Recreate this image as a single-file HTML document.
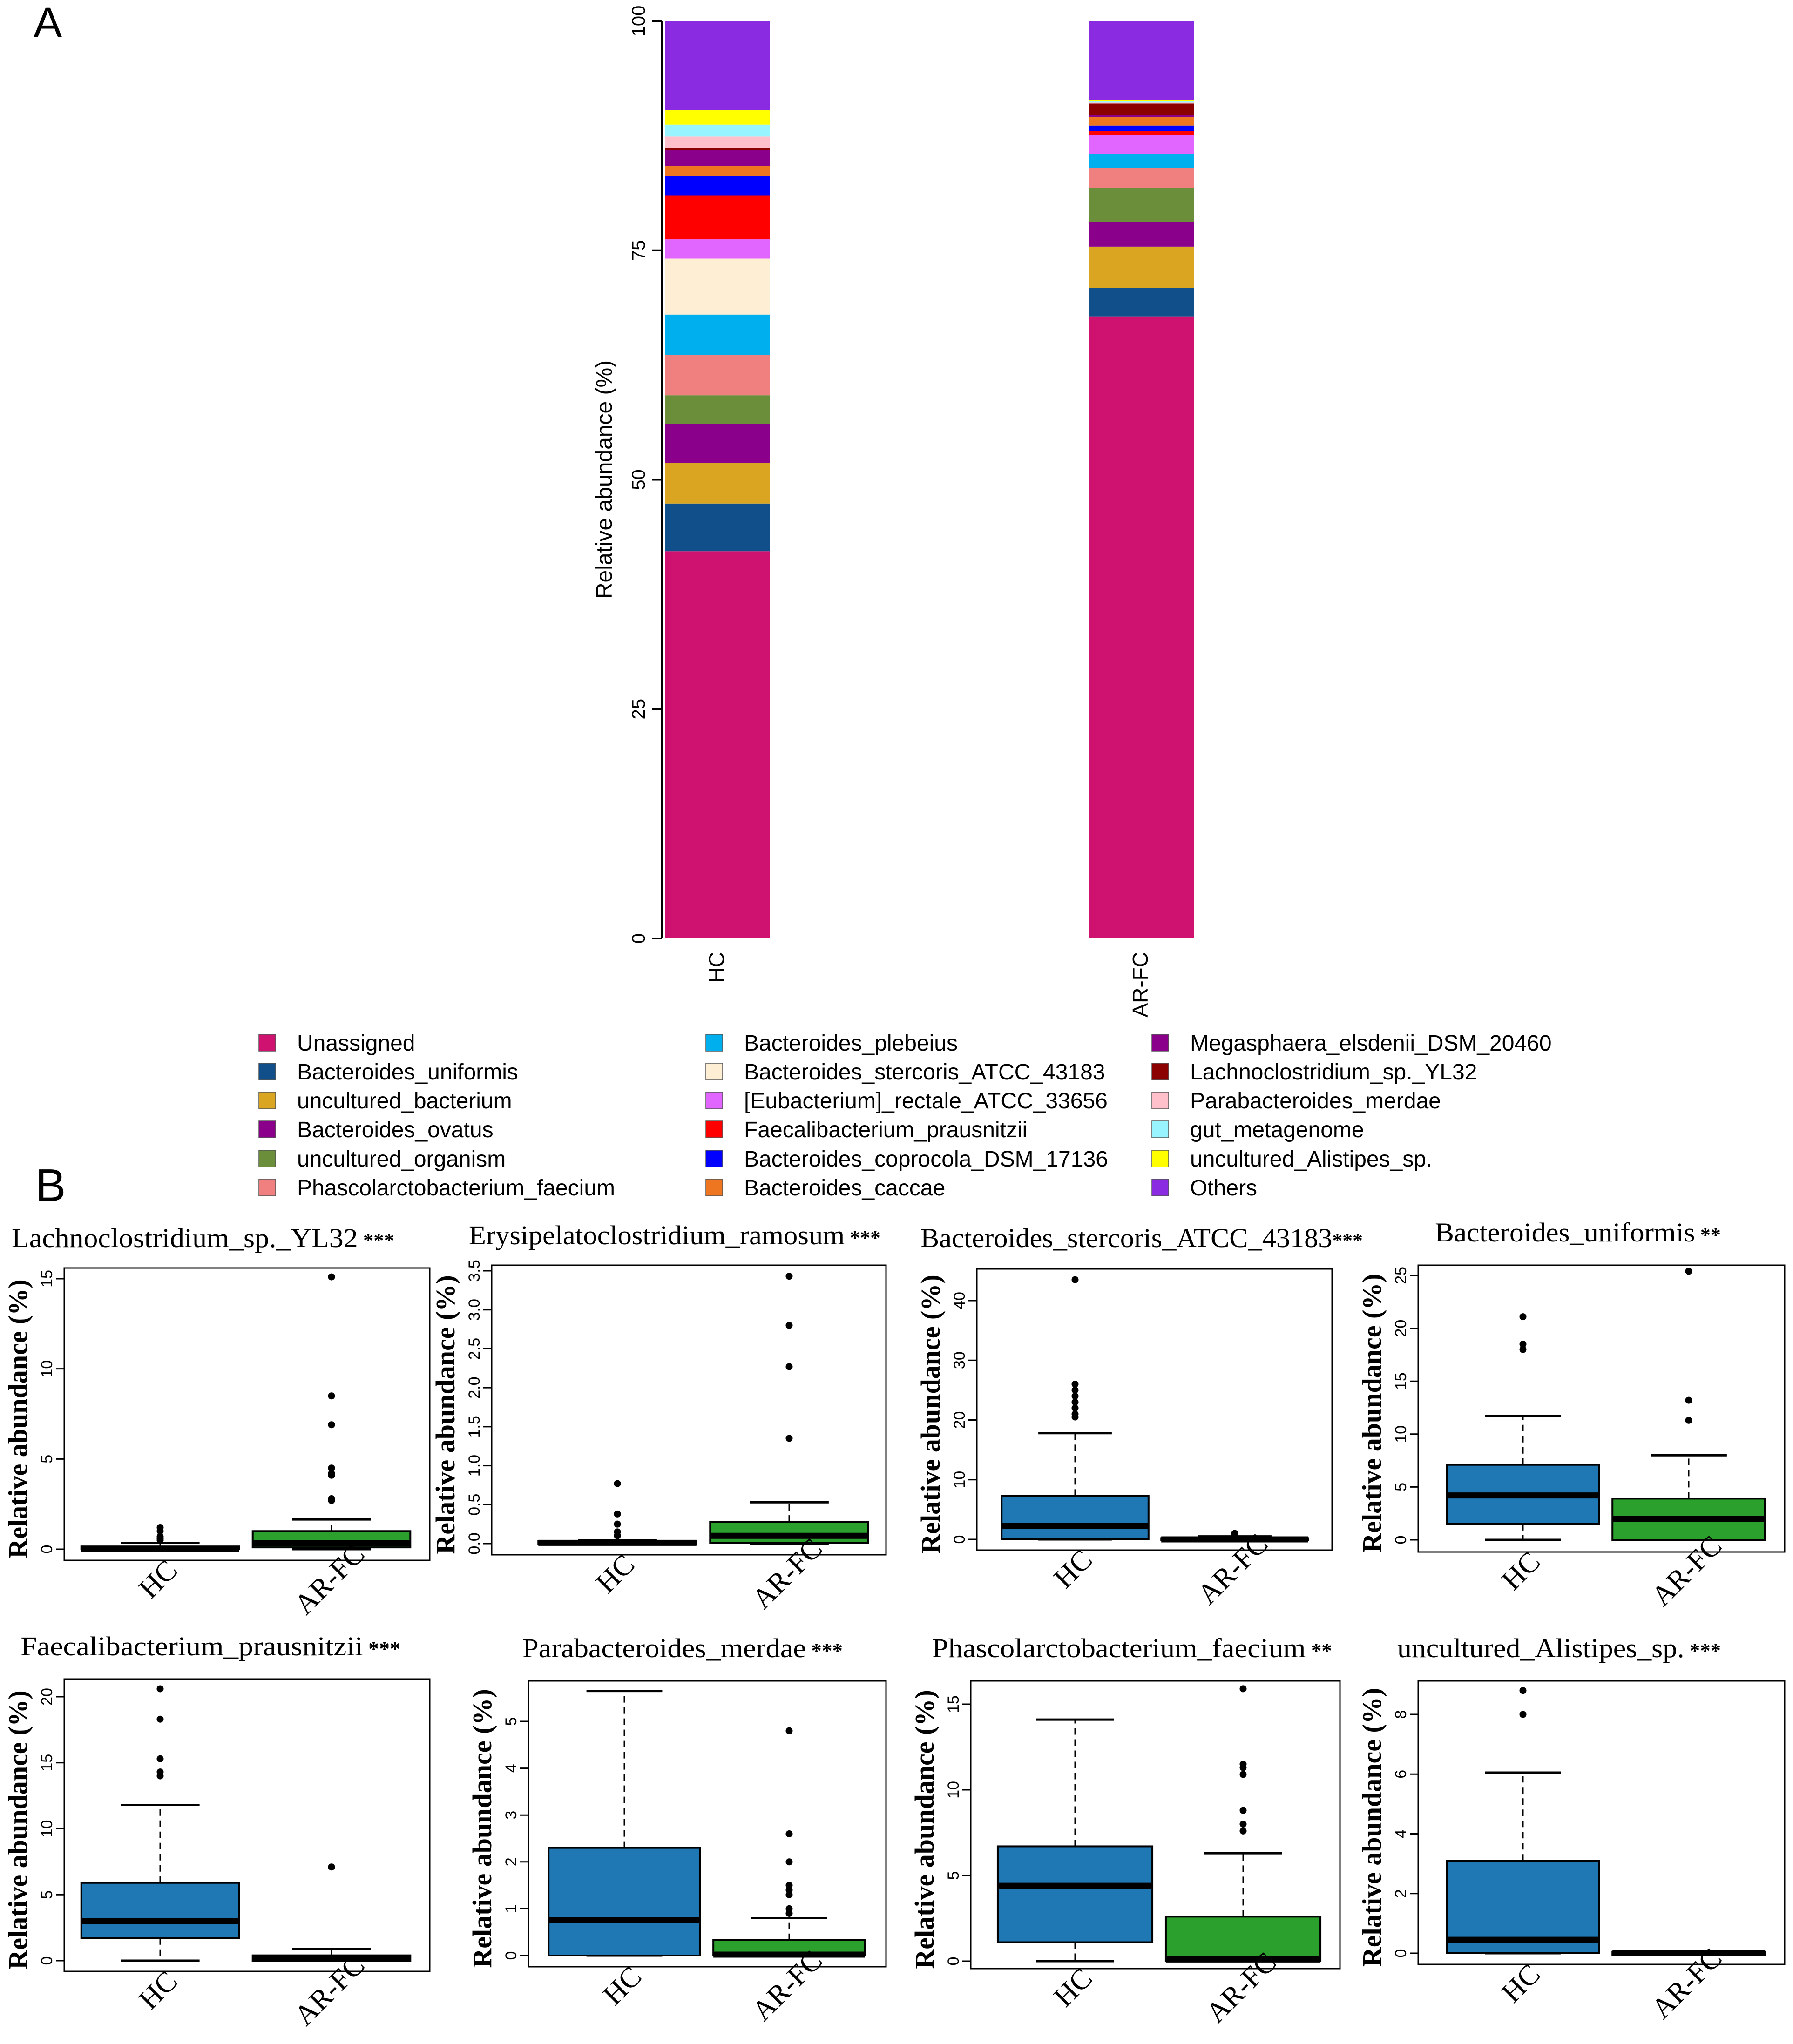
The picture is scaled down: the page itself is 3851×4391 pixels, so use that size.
<!DOCTYPE html>
<html><head><meta charset="utf-8"><style>
html,body{margin:0;padding:0;background:#fff}
svg{display:block}
</style></head><body>
<svg id="fig" xmlns="http://www.w3.org/2000/svg" width="3851" height="4391" viewBox="0 0 3851 4391">
<rect width="3851" height="4391" fill="#fff"/>
<text x="72" y="80" font-family="Liberation Sans, sans-serif" font-size="92">A</text>
<text x="76" y="2580" font-family="Liberation Sans, sans-serif" font-size="98">B</text>
<g id="barchart"></g>
<g id="legend"></g>
<g id="boxes"></g>
</svg>
<script>
const taxa = ["Unassigned","Bacteroides_uniformis","uncultured_bacterium","Bacteroides_ovatus","uncultured_organism","Phascolarctobacterium_faecium","Bacteroides_plebeius","Bacteroides_stercoris_ATCC_43183","[Eubacterium]_rectale_ATCC_33656","Faecalibacterium_prausnitzii","Bacteroides_coprocola_DSM_17136","Bacteroides_caccae","Megasphaera_elsdenii_DSM_20460","Lachnoclostridium_sp._YL32","Parabacteroides_merdae","gut_metagenome","uncultured_Alistipes_sp.","Others"];
const taxaColors = ["#cf1270","#114f8a","#daa520","#8b008b","#6b8e3a","#f08080","#00b0ee","#fdeed4","#e066ff","#ff0000","#0000ff","#ee7621","#8b008b","#8b0000","#ffc0cb","#98f5ff","#ffff00","#8a2be2"];
const groups = ["HC","AR-FC"];
const hcValues = [42.2,5.2,4.4,4.3,3.1,4.4,4.4,6.1,2.1,4.8,2.1,1.1,1.7,0.2,1.3,1.3,1.6,9.7];
const arfcValues = [67.8,3.1,4.5,2.7,3.7,2.2,1.5,0.0,2.1,0.4,0.6,0.9,0.3,1.2,0.1,0.2,0.1,8.6];
const barTicks = [0,25,50,75,100];

const NS="http://www.w3.org/2000/svg";
function mk(tag,attrs,parent,txt){const e=document.createElementNS(NS,tag);for(const k in attrs)e.setAttribute(k,attrs[k]);if(txt!==undefined)e.textContent=txt;parent.appendChild(e);return e;}

// ---- Panel A ----
(function(){
  const g=document.getElementById('barchart');
  const y0=2016,y1=45;
  const ys=v=>y0-(v/100)*(y0-y1);
  const axX=1422;
  const ax=mk('line',{x1:axX,y1:ys(0),x2:axX,y2:ys(100),stroke:'#000','stroke-width':4},g);
  
  
  barTicks.forEach(t=>{
    const tl=mk('line',{x1:axX-22,y1:ys(t),x2:axX,y2:ys(t),stroke:'#000','stroke-width':4},g);
    
    
    const tx=mk('text',{x:1385,y:ys(t),transform:`rotate(-90 1385 ${ys(t)})`,'text-anchor':'middle','font-family':'Liberation Sans, sans-serif','font-size':40},g,String(t));
    
    
  });
  const yt=mk('text',{x:1314,y:1030,transform:'rotate(-90 1314 1030)','text-anchor':'middle','font-family':'Liberation Sans, sans-serif','font-size':48},g,'Relative abundance (%)');
  
  
  const series=[hcValues,arfcValues];
  const bx=[1428,2338], bw=226;
  series.forEach((vals,gi)=>{
    let cum=0;
    vals.forEach((v,i)=>{
      const top=ys(cum+v), bot=ys(cum);
      const r=mk('rect',{x:bx[gi],y:top,width:bw,height:Math.max(0,bot-top),fill:taxaColors[i]},g);
      
      
      cum+=v;
    });
    const cx=bx[gi]+bw/2+14;
    const lb=mk('text',{x:cx,y:2045,transform:`rotate(-90 ${cx} 2045)`,'text-anchor':'end','font-family':'Liberation Sans, sans-serif','font-size':46},g,groups[gi]);
    
    
  });
})();

// ---- Legend ----
(function(){
  const g=document.getElementById('legend');
  const colX=[556,1516,2474], rowY=[2240,2302,2364,2426,2489,2551];
  taxa.forEach((name,i)=>{
    const c=Math.floor(i/6), r=i%6;
    const s=mk('rect',{x:colX[c],y:rowY[r]-18,width:36,height:36,fill:taxaColors[i],stroke:'#555','stroke-width':1.5},g);
    
    
    const t=mk('text',{x:colX[c]+82,y:rowY[r]+17,'font-family':'Liberation Sans, sans-serif','font-size':48},g,name);
    
    
  });
})();

// ---- Panel B boxplots ----
const boxTitles = ["Lachnoclostridium_sp._YL32","Erysipelatoclostridium_ramosum","Bacteroides_stercoris_ATCC_43183","Bacteroides_uniformis","Faecalibacterium_prausnitzii","Parabacteroides_merdae","Phascolarctobacterium_faecium","uncultured_Alistipes_sp."];
const boxStars = [" ***"," ***","***"," **"," ***"," ***"," **"," ***"];
const boxTicks = [[0,5,10,15],[0,0.5,1.0,1.5,2.0,2.5,3.0,3.5],[0,10,20,30,40],[0,5,10,15,20,25],[0,5,10,15,20],[0,1,2,3,4,5],[0,5,10,15],[0,2,4,6,8]];
const tickDecimals = [0,1,0,0,0,0,0,0];
// [lowWhisker, q1, median, q3, highWhisker]
const hcStats = [[0,0,0.02,0.15,0.35],[0,0,0.01,0.03,0.04],[0,0,2.3,7.3,17.8],[0,1.5,4.2,7.1,11.7],[0,1.7,3.0,5.9,11.8],[0,0,0.75,2.3,5.65],[0,1.1,4.4,6.7,14.1],[0,0,0.45,3.1,6.05]];
const arStats = [[0,0.1,0.35,1.0,1.65],[0,0.01,0.1,0.28,0.53],[-0.1,-0.1,0,0.2,0.5],[0,0,2.0,3.9,8.0],[0,0,0.2,0.4,0.9],[0,0,0.02,0.33,0.8],[0,0,0.1,2.6,6.3],[-0.05,-0.05,0,0.05,0.05]];
const hcOutliers = [[0.5,0.6,0.7,1.0,1.2],[0.1,0.15,0.25,0.38,0.77],[20.5,21,22,23,24,25,26,43.5],[18,18.5,21.1],[14,14.3,15.3,18.3,20.6],[],[],[8,8.8]];
const arOutliers = [[2.7,2.8,4.1,4.2,4.5,6.9,8.5,15.1],[1.35,2.27,2.8,3.43],[0.8,1.0],[11.3,13.2,25.4],[7.1],[0.9,1.0,1.3,1.4,1.5,2.0,2.6,4.8],[7.6,8.0,8.8,10.9,11.3,11.5,15.9],[]];

(function(){
  const root=document.getElementById('boxes');
  const L=[
    {f:[138,923,2724,3352],c:[3328,15,2747],gx:[344,712],tt:[25,2679,822]},
    {f:[1056,1903,2718,3340],c:[3316,3.5,2730],gx:[1326,1695],tt:[1007,2673,884]},
    {f:[2098,2861,2726,3330],c:[3307,40,2794],gx:[2309,2652],tt:[1977,2679,950]},
    {f:[3046,3833,2718,3334],c:[3308,25,2740],gx:[3271,3627],tt:[3082,2667,614]},
    {f:[138,923,3607,4235],c:[4212,20,3645],gx:[344,712],tt:[44,3556,816]},
    {f:[1135,1903,3611,4225],c:[4201,5,3698],gx:[1341,1695],tt:[1122,3560,688]},
    {f:[2085,2878,3611,4229],c:[4213,15,3661],gx:[2309,2670],tt:[2002,3560,859]},
    {f:[3046,3833,3611,4220],c:[4196,8,3683],gx:[3271,3627],tt:[3001,3560,695]}
  ];
  const serif='Liberation Serif, serif';
  L.forEach((p,i)=>{
    const g=mk('g',{},root);
    
    
    const [l,r,t,b]=p.f;
    const ys=v=>p.c[0]-(v/p.c[1])*(p.c[0]-p.c[2]);
    const tt=mk('text',{x:p.tt[0],y:p.tt[1],'font-family':serif,'font-size':58,textLength:p.tt[2],lengthAdjust:'spacingAndGlyphs'},g);
    
    
    mk('tspan',{},tt,boxTitles[i]);
    mk('tspan',{'font-size':42,'font-weight':'bold'},tt,boxStars[i]);
    const fr=mk('rect',{x:l,y:t,width:r-l,height:b-t,fill:'none',stroke:'#000','stroke-width':3},g);
    
    
    boxTicks[i].forEach(tv=>{
      const y=ys(tv);
      const tk=mk('line',{x1:l-18,y1:y,x2:l,y2:y,stroke:'#000','stroke-width':3},g);
      
      
      const lab=mk('text',{x:l-26,y:y,transform:`rotate(-90 ${l-26} ${y})`,'text-anchor':'middle','font-family':'Liberation Sans, sans-serif','font-size':34},g,tv.toFixed(tickDecimals[i]));
      
      
    });
    const yx=l-80, ymid=(t+b)/2+10;
    const yt=mk('text',{x:yx,y:ymid,transform:`rotate(-90 ${yx} ${ymid})`,'text-anchor':'middle','font-family':serif,'font-weight':'bold','font-size':58},g,'Relative abundance (%)');
    
    
    const spacing=p.gx[1]-p.gx[0], bw=spacing*0.92;
    [[hcStats[i],hcOutliers[i],'#1f77b4','hc'],[arStats[i],arOutliers[i],'#2ca02c','ar-fc']].forEach(([st,out,col,nm],gi)=>{
      const cx=p.gx[gi];
      const [lo,q1,md,q3,hi]=st;
      const w1=mk('line',{x1:cx,y1:ys(q3),x2:cx,y2:ys(hi),stroke:'#000','stroke-width':3,'stroke-dasharray':'14 10'},g);
      
      
      const w2=mk('line',{x1:cx,y1:ys(q1),x2:cx,y2:ys(lo),stroke:'#000','stroke-width':3,'stroke-dasharray':'14 10'},g);
      
      
      [hi,lo].forEach(v=>{
        const cp=mk('line',{x1:cx-bw/4,y1:ys(v),x2:cx+bw/4,y2:ys(v),stroke:'#000','stroke-width':5},g);
        
        
      });
      const bx=mk('rect',{x:cx-bw/2,y:ys(q3),width:bw,height:Math.max(2,ys(q1)-ys(q3)),fill:col,stroke:'#000','stroke-width':4},g);
      
      
      const me=mk('line',{x1:cx-bw/2,y1:ys(md),x2:cx+bw/2,y2:ys(md),stroke:'#000','stroke-width':13},g);
      
      
      out.forEach(v=>{
        const o=mk('circle',{cx:cx,cy:ys(v),r:6,fill:'#000',stroke:'#000','stroke-width':3},g);
        
        
      });
      const lx=cx+10, ly=b+55;
      const xl=mk('text',{x:lx,y:ly,transform:`rotate(-45 ${lx} ${ly})`,'text-anchor':'middle','font-family':serif,'font-size':62},g,groups[gi]);
      
      
    });
  });
})();
</script>
</body></html>
